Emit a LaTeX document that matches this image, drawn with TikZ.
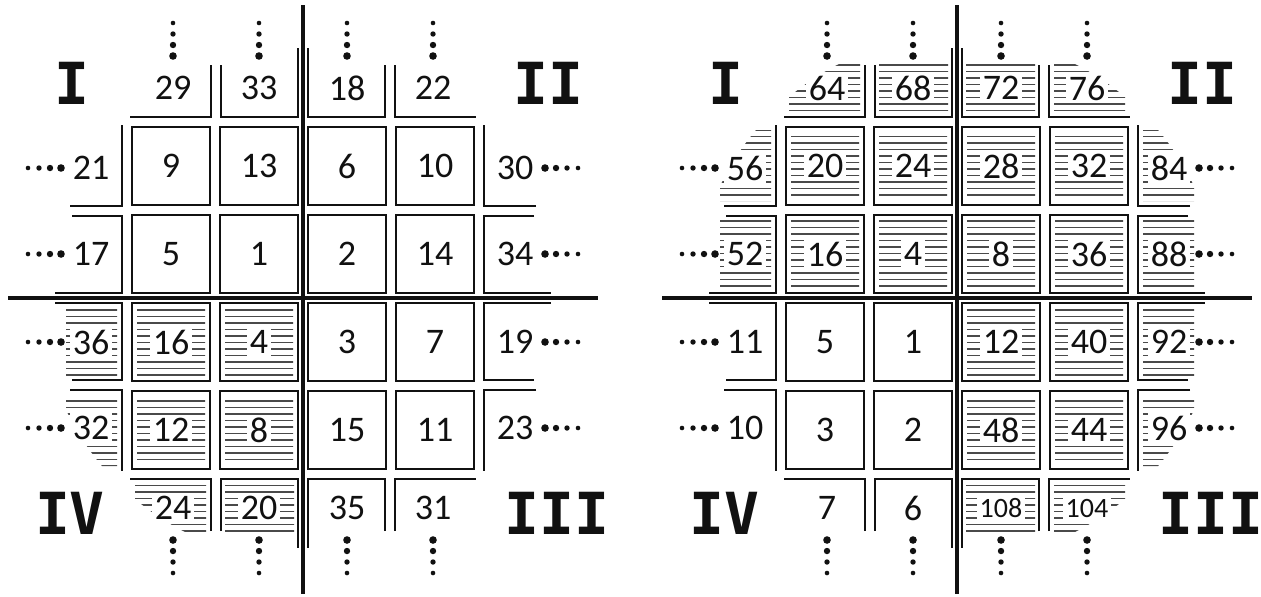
\documentclass[tikz,border=0pt]{standalone}
\usepackage{fontspec}
\setmainfont{Carlito}
\newfontfamily\quadfont{DejaVu Sans Mono}
\usepackage{tikz}
\definecolor{inkblack}{HTML}{111111}
\definecolor{hatchgray}{HTML}{4A4A4A}

\begin{document}
\begin{tikzpicture}[
  x=0.5pt,y=-0.5pt,
  axis/.style={draw=inkblack,line width=1.7pt},
  box/.style={draw=inkblack,line width=1.2pt},
  hatch/.style={draw=hatchgray,line width=0.65pt},
  num/.style={fill=white,text=inkblack,inner sep=1.5pt,font=\fontsize{18}{18}\selectfont},
  small num/.style={num,font=\fontsize{14}{14}\selectfont},
  quad/.style={text=inkblack,inner sep=0pt,font=\quadfont\bfseries\fontsize{29}{29}\selectfont}
]
\useasboundingbox (0,0) rectangle (1261,596);
\coordinate (OL) at (303,298);
\coordinate (OR) at (957,298);

\foreach \o/\sx/\sy in {OL/-1/1, OR/-1/-1, OR/1/-1, OR/1/1} {
  \begin{scope}[shift={(\o)},xscale=\sx,yscale=\sy]
    \clip (0,0) circle[radius=131pt];
    \clip (10,10) rectangle (78,78) (98,10) rectangle (166,78)
          (10,98) rectangle (78,166) (98,98) rectangle (166,166)
          (9,186) rectangle (78,236) (97,186) rectangle (168,236)
          (186,9) rectangle (237,78) (186,97) rectangle (237,168);
    \foreach \b in {12,18.5,...,240} \draw[hatch] (5,\b) -- (250,\b);
  \end{scope}
}

\foreach \o/\sx/\sy in {OL/-1/-1, OL/1/-1, OL/1/1, OL/-1/1, OR/-1/-1, OR/1/-1, OR/1/1, OR/-1/1} {
  \begin{scope}[shift={(\o)},xscale=\sx,yscale=\sy]
    \draw[box] (5,5) rectangle (83,83) (93,5) rectangle (171,83)
               (5,93) rectangle (83,171) (93,93) rectangle (171,171);
    \draw[box] (92,233) |- (173,181);
    \draw[box] (82,233) |- (5,181) -- (5,250);
    \draw[box] (233,92) -| (181,173);
    \draw[box] (231,82) -| (181,5) -- (248,5);
    \foreach \k/\r in {0/1.9pt,1/1.6pt,2/1.35pt,3/1.15pt} {
      \fill[inkblack] (242+11*\k,44) circle[radius=\r] (242+11*\k,130) circle[radius=\r];
      \fill[inkblack] (44,242+11*\k) circle[radius=\r] (130,242+11*\k) circle[radius=\r];
    }
  \end{scope}
}

\draw[axis] (303,5) -- (303,594);
\draw[axis] (8,298) -- (598,298);
\draw[axis] (957,5) -- (957,594);
\draw[axis] (662,298) -- (1252,298);

\foreach \o/\p/\sx/\sy/\st/\nA/\nB/\nC/\nD/\nE/\nF/\nG/\nH/\rn/\ra in {
  OL/l/-1/-1/num/1/5/13/9/33/29/21/17/I/231,
  OL/l/1/-1/num/2/14/6/10/18/22/30/34/II/245,
  OL/l/1/1/num/3/7/15/11/35/31/23/19/III/254,
  OL/l/-1/1/num/4/16/8/12/20/24/32/36/IV/233,
  OR/r/-1/-1/num/4/16/24/20/68/64/56/52/I/231,
  OR/r/1/-1/num/8/36/28/32/72/76/84/88/II/245,
  OR/r/1/1/small num/12/40/48/44/108/104/96/92/III/254,
  OR/r/-1/1/num/1/5/2/3/6/7/10/11/IV/233} {
  \begin{scope}[shift={(\o)},xscale=\sx,yscale=\sy]
    \node[num] (\p\nA) at (44,44) {\nA};
    \node[num] (\p\nB) at (132,44) {\nB};
    \node[num] (\p\nC) at (44,132) {\nC};
    \node[num] (\p\nD) at (132,132) {\nD};
    \node[\st] (\p\nE) at (44,210) {\nE};
    \node[\st] (\p\nF) at (130,210) {\nF};
    \node[num] (\p\nG) at (212,130) {\nG};
    \node[num] (\p\nH) at (212,44) {\nH};
    \node[quad] (\p-\rn) at (\ra,215) {\rn};
  \end{scope}
}
\end{tikzpicture}
\end{document}
